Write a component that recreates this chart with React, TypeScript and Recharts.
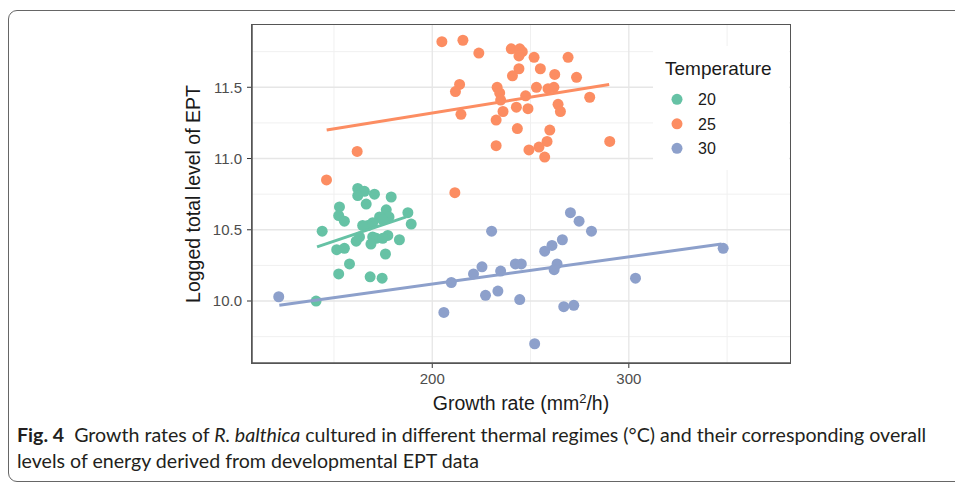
import { CartesianGrid, Legend, Scatter, ScatterChart, XAxis, YAxis } from "recharts"

// growth rate (mm2/h) and logged EPT, one pair of arrays per temperature
const growth20 = [162.1, 165.5, 170.6, 179.1, 162.1, 166.4, 152.8, 152.4, 155.3, 176.6, 178, 187.6, 189.3, 173.2, 174.8, 169.7, 167.2, 164.6, 144, 163, 161.3, 169.7, 171.5, 177.4, 174.8, 183.3, 168.8, 151.4, 155.3, 176.2, 157.9, 152.4, 168.4, 174.5, 140.9]
const ept20 = [10.79, 10.77, 10.75, 10.73, 10.74, 10.68, 10.66, 10.6, 10.56, 10.64, 10.59, 10.62, 10.54, 10.59, 10.57, 10.55, 10.53, 10.53, 10.49, 10.45, 10.42, 10.45, 10.44, 10.46, 10.44, 10.43, 10.4, 10.36, 10.37, 10.33, 10.26, 10.19, 10.17, 10.16, 10.0]

const growth25 = [204.9, 215.6, 223.7, 213.9, 211.8, 233, 214.6, 232.5, 232.5, 161.8, 146.2, 211.5, 240.2, 244.5, 245.8, 244.1, 251.8, 269.1, 244.1, 255, 240.8, 262.3, 273.4, 234.3, 253, 258.9, 261.9, 247.5, 280.1, 234.8, 236, 242.8, 248.7, 264, 265.2, 243.3, 259.8, 258.4, 254.3, 249.2, 257.2, 290.3]
const ept25 = [11.82, 11.83, 11.74, 11.52, 11.47, 11.5, 11.31, 11.27, 11.09, 11.05, 10.85, 10.76, 11.77, 11.77, 11.75, 11.72, 11.71, 11.71, 11.63, 11.63, 11.58, 11.59, 11.57, 11.46, 11.5, 11.49, 11.5, 11.44, 11.43, 11.41, 11.33, 11.36, 11.35, 11.38, 11.33, 11.21, 11.2, 11.12, 11.08, 11.06, 11.01, 11.12]

const growth30 = [121.9, 230.2, 209.7, 205.9, 221, 225.3, 227.1, 270.3, 274.7, 281, 266.2, 260.9, 257.2, 242.3, 245.3, 263.5, 262, 234.8, 303.4, 348, 233.4, 244.5, 266.9, 272, 252.1]
const ept30 = [10.03, 10.49, 10.13, 9.92, 10.19, 10.24, 10.04, 10.62, 10.56, 10.49, 10.43, 10.39, 10.35, 10.26, 10.26, 10.26, 10.22, 10.21, 10.16, 10.37, 10.07, 10.01, 9.96, 9.97, 9.7]

// end points of the fitted lines
const fitGrowth20 = [141.4, 186.8]
const fitEpt20 = [10.38, 10.59]
const fitGrowth25 = [146.3, 290]
const fitEpt25 = [11.2, 11.52]
const fitGrowth30 = [122.2, 347.2]
const fitEpt30 = [9.97, 10.4]

const xTicks = [200, 300]
const yTicks = [10, 10.5, 11, 11.5]
const xMinor = [150, 250, 350]
const yMinor = [9.75, 10.25, 10.75, 11.25, 11.75]

const xDomain = [108.3, 382]
const yDomain = [9.565, 11.937]

const colors = { t20: "#66c2a5", t25: "#fc8d62", t30: "#8da0cb" }

const toPoints = (xs: number[], ys: number[]) => xs.map((x, i) => ({ rate: x, ept: ys[i] }))

const dot = (color: string) => (props: any) => <circle cx={props.cx} cy={props.cy} r={5.5} fill={color} />
const noDot = () => <g />

const font = "'Liberation Sans', Arial, sans-serif"
const border = "#555"

// chart box: panel spans x 252..790, y 25..363
const margin = { top: 25, right: 165, bottom: 0, left: 190 }
const chartW = 955
const chartH = 420
const yAxisW = 62
const xAxisH = 57

function XLabel({ viewBox }: any) {
  const cx = viewBox.x + viewBox.width / 2
  return (
    <text x={cx} y={viewBox.y + 47} textAnchor="middle" fontSize={19.5} fill="#1a1a1a" fontFamily={font}>
      Growth rate (mm
      <tspan dy={-7} fontSize={13}>2</tspan>
      <tspan dy={7}>/h)</tspan>
    </text>
  )
}

function YLabel({ viewBox }: any) {
  const x = viewBox.x + 10
  const y = viewBox.y + viewBox.height / 2
  return (
    <text x={x} y={y} transform={`rotate(-90, ${x}, ${y})`} textAnchor="middle" fontSize={19.5} fill="#1a1a1a" fontFamily={font}>
      Logged total level of EPT
    </text>
  )
}

function TempLegend({ payload }: any) {
  const items = (payload || []).filter((p: any) => p.type !== "none")
  return (
    <div style={{ background: "#fff", width: 136, height: 124 }}>
      <svg width={136} height={124}>
        <text x={12} y={29} fontSize={19} fill="#1a1a1a" fontFamily={font}>Temperature</text>
        {items.map((p: any, i: number) => (
          <g key={p.value}>
            <circle cx={24} cy={53.3 + i * 24.5} r={5.5} fill={p.color} />
            <text x={45} y={59 + i * 24.5} fontSize={16} fill="#1a1a1a" fontFamily={font}>{p.value}</text>
          </g>
        ))}
      </svg>
    </div>
  )
}

export default function App() {
  const tickStyle = { fontSize: 15, fill: "#4d4d4d", fontFamily: font }
  const panelLeft = margin.left + yAxisW
  const panelTop = margin.top
  const panelW = chartW - margin.right - panelLeft
  const panelH = chartH - margin.bottom - xAxisH - panelTop
  return (
    <div style={{ position: "relative", width: 955, height: 483, overflow: "hidden", background: "#fff" }}>
      <style>{"body{margin:0}"}</style>
      <div
        style={{
          position: "absolute",
          left: 8,
          top: 10,
          width: 1000,
          height: 472,
          border: "1.5px solid #666",
          borderRadius: 9,
          boxSizing: "border-box",
        }}
      />
      <div style={{ position: "absolute", left: 0, top: 0 }}>
        <ScatterChart width={chartW} height={chartH} margin={margin}>
          <CartesianGrid horizontalValues={yMinor} verticalValues={xMinor} stroke="#f0f0f0" strokeWidth={1} />
          <CartesianGrid horizontalValues={yTicks} verticalValues={xTicks} stroke="#e6e6e6" strokeWidth={1.3} />
          <XAxis
            dataKey="rate"
            type="number"
            domain={xDomain}
            allowDataOverflow
            ticks={xTicks}
            height={xAxisH}
            tickSize={5}
            tickMargin={5}
            tick={tickStyle}
            tickLine={{ stroke: "#333" }}
            axisLine={{ stroke: border, strokeWidth: 1.5 }}
            label={<XLabel />}
          />
          <YAxis
            dataKey="ept"
            type="number"
            domain={yDomain}
            allowDataOverflow
            ticks={yTicks}
            width={yAxisW}
            tickSize={5}
            tickMargin={5}
            tick={tickStyle}
            tickFormatter={(v: number) => v.toFixed(1)}
            tickLine={{ stroke: "#333" }}
            axisLine={{ stroke: border, strokeWidth: 1.5 }}
            label={<YLabel />}
          />
          <Legend
            content={<TempLegend />}
            layout="horizontal"
            align="center"
            verticalAlign="middle"
            wrapperStyle={{ left: 653, top: 46, width: 136, height: 124 }}
          />
          <Scatter name="20" data={toPoints(growth20, ept20)} fill={colors.t20} shape={dot(colors.t20)} isAnimationActive={false} />
          <Scatter name="25" data={toPoints(growth25, ept25)} fill={colors.t25} shape={dot(colors.t25)} isAnimationActive={false} />
          <Scatter name="30" data={toPoints(growth30, ept30)} fill={colors.t30} shape={dot(colors.t30)} isAnimationActive={false} />
          <Scatter data={toPoints(fitGrowth20, fitEpt20)} legendType="none" shape={noDot} line={{ stroke: colors.t20, strokeWidth: 3 }} isAnimationActive={false} />
          <Scatter data={toPoints(fitGrowth25, fitEpt25)} legendType="none" shape={noDot} line={{ stroke: colors.t25, strokeWidth: 3 }} isAnimationActive={false} />
          <Scatter data={toPoints(fitGrowth30, fitEpt30)} legendType="none" shape={noDot} line={{ stroke: colors.t30, strokeWidth: 3 }} isAnimationActive={false} />
        </ScatterChart>
      </div>
      {/* panel frame */}
      <div
        style={{
          position: "absolute",
          left: panelLeft - 0.75,
          top: panelTop - 0.75,
          width: panelW + 1.5,
          height: panelH + 1.5,
          border: `1.5px solid ${border}`,
          boxSizing: "border-box",
          pointerEvents: "none",
        }}
      />
      <div
        style={{
          position: "absolute",
          left: 17,
          top: 422,
          fontFamily: "Lato, sans-serif",
          fontSize: 19.6,
          lineHeight: "26px",
          color: "#231f20",
          whiteSpace: "nowrap",
        }}
      >
        <div>
          <b>Fig. 4</b>&nbsp; Growth rates of <i>R. balthica</i> cultured in different thermal regimes (°C) and their corresponding overall
        </div>
        <div>levels of energy derived from developmental EPT data</div>
      </div>
    </div>
  )
}
